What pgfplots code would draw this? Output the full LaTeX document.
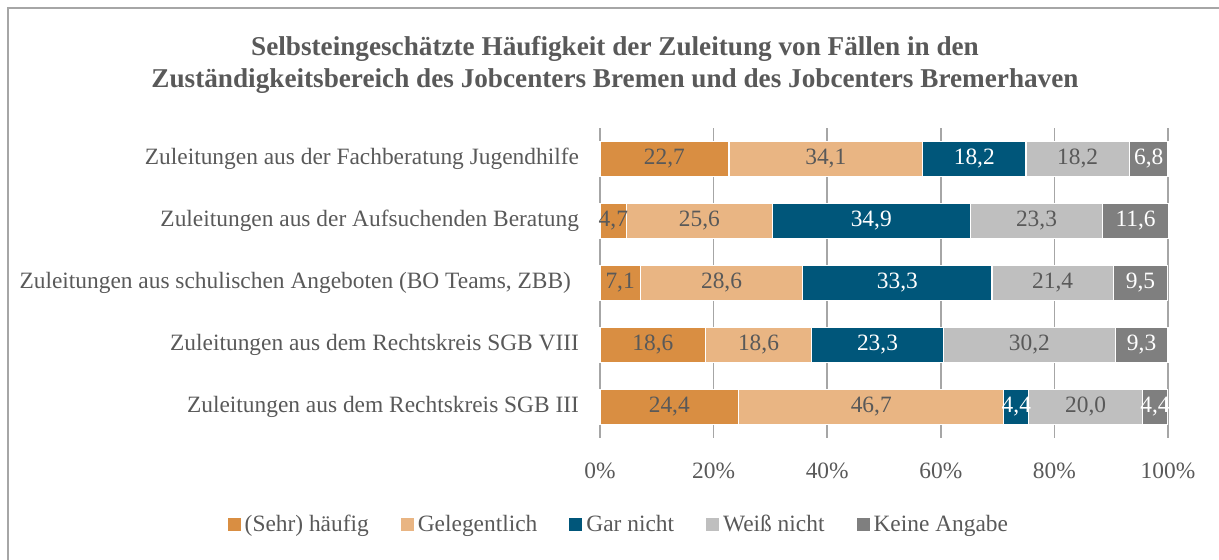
\documentclass[border=0pt]{standalone}
\usepackage{fontspec}
\setmainfont{Liberation Serif}
\usepackage{pgfplots}
\pgfplotsset{compat=1.18}
\usepackage{pgfplotstable}

\definecolor{cA}{HTML}{D98E42}
\definecolor{cB}{HTML}{E9B583}
\definecolor{cC}{HTML}{00567A}
\definecolor{cD}{HTML}{BFBFBF}
\definecolor{cE}{HTML}{7F7F7F}
\definecolor{txt}{HTML}{595959}
\definecolor{gridc}{HTML}{A6A6A6}

% rows top to bottom
\pgfplotstableread{
row a b c d e
0 22.7 34.1 18.2 18.2 6.8
1 4.7 25.6 34.9 23.3 11.6
2 7.1 28.6 33.3 21.4 9.5
3 18.6 18.6 23.3 30.2 9.3
4 24.4 46.7 4.4 20.0 4.4
}\data

\newcommand{\lbl}{\fontsize{11.7}{14}\selectfont}

% stacked bars already put the node in the middle of each segment
\pgfplotsset{
  seg/.style n args={3}{
    fill=#1, draw=white, line width=0.6pt,
    point meta=\thisrow{#2},
    nodes near coords={\pgfmathprintnumber[fixed,fixed zerofill,precision=1,use comma]{\pgfplotspointmeta}},
    every node near coord/.style={anchor=center, font=\lbl, text=#3, inner sep=0pt},
  },
}

\begin{document}
\begin{tikzpicture}
\useasboundingbox (0,0) rectangle (609.5pt,279.5pt);
\draw[gridc, line width=1pt] (4pt,-10pt) rectangle (620pt,275.5pt);
\node[font=\bfseries\fontsize{13.6}{16}\selectfont, text=txt, align=center]
  at (307.5pt,247pt) {Selbsteingeschätzte Häufigkeit der Zuleitung von Fällen in den\\
  Zuständigkeitsbereich des Jobcenters Bremen und des Jobcenters Bremerhaven};
\begin{axis}[
  at={(300pt,60.5pt)}, anchor=south west,
  scale only axis, width=284pt, height=155pt,
  xbar stacked, bar width=17.5pt, clip=false,
  xmin=0, xmax=100, ymin=-0.5, ymax=4.5, y dir=reverse,
  ytick={0,1,2,3,4},
  yticklabels={Zuleitungen aus der Fachberatung Jugendhilfe,
    Zuleitungen aus der Aufsuchenden Beratung,
    {Zuleitungen aus schulischen Angeboten (BO Teams, ZBB)\kern4pt},
    Zuleitungen aus dem Rechtskreis SGB VIII,
    Zuleitungen aus dem Rechtskreis SGB III},
  xtick={0,20,40,60,80,100},
  xticklabel={\pgfmathprintnumber{\tick}\%},
  /pgf/number format/assume math mode=true,
  major tick length=0pt,
  axis line style={draw=none},
  xmajorgrids, grid style={gridc, line width=0.75pt},
  xticklabel style={font=\lbl, text=txt, yshift=-9pt},
  yticklabel style={font=\lbl, text=txt, xshift=-7pt},
  legend columns=5,
  legend style={draw=none, fill=none, font=\lbl, text=txt,
    at={(axis description cs:0.035,-0.28)}, anchor=center,
    /tikz/every even column/.append style={column sep=14pt}},
  legend image code/.code={\fill[#1,draw=none] (0pt,-3.25pt) rectangle (6.5pt,3.25pt);},
]
\addplot[seg={cA}{a}{txt}] table[x=a,y=row] \data;
\addlegendentry{(Sehr) häufig}
\addplot[seg={cB}{b}{txt}] table[x=b,y=row] \data;
\addlegendentry{Gelegentlich}
\addplot[seg={cC}{c}{white}] table[x=c,y=row] \data;
\addlegendentry{Gar nicht}
\addplot[seg={cD}{d}{txt}] table[x=d,y=row] \data;
\addlegendentry{Weiß nicht}
\addplot[seg={cE}{e}{white}] table[x=e,y=row] \data;
\addlegendentry{Keine Angabe}
\end{axis}
\end{tikzpicture}
\end{document}
